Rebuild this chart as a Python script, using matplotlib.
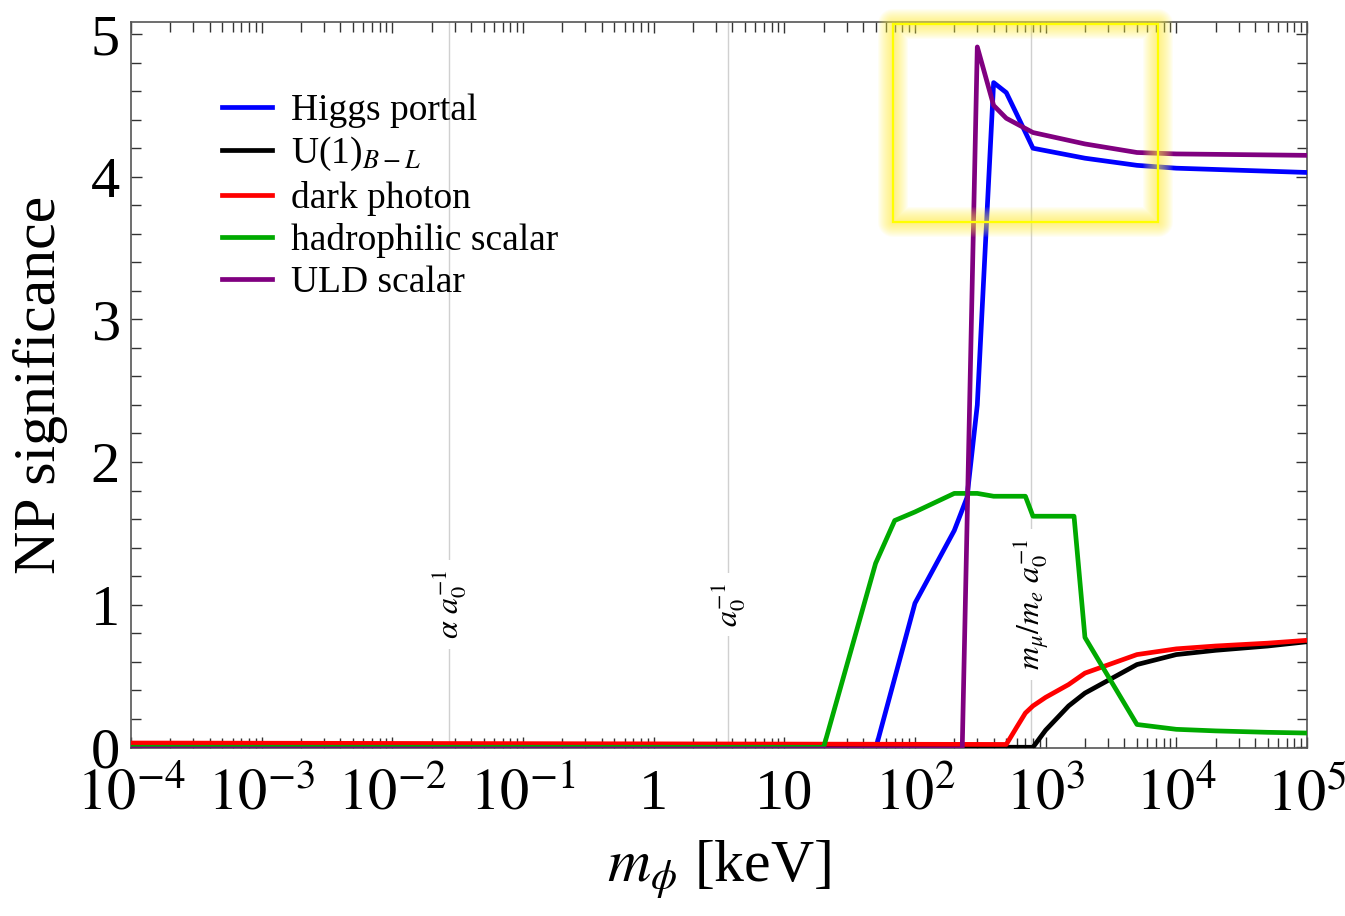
import matplotlib
matplotlib.use("Agg")
import matplotlib.pyplot as plt
from matplotlib.patches import Rectangle
from matplotlib.ticker import MultipleLocator, LogLocator, NullFormatter

plt.rcParams['font.family'] = ['Liberation Serif', 'DejaVu Serif']
plt.rcParams['mathtext.fontset'] = 'stix'

# masses in keV, significance values per model
higgs_m = [1e-4, 50, 100, 200, 250, 300, 400, 500, 600, 800, 2000, 5000, 1e4, 1e5]
higgs_y = [-0.01, -0.01, 1.01, 1.52, 1.75, 2.4, 4.66, 4.59, 4.44, 4.20, 4.13, 4.08, 4.06, 4.03]

bl_m = [1e-4, 800, 1000, 1500, 2000, 5000, 1e4, 2e4, 5e4, 1e5]
bl_y = [0.012, 0.0, 0.12, 0.29, 0.38, 0.58, 0.65, 0.68, 0.71, 0.74]

dark_m = [1e-4, 500, 600, 700, 800, 1000, 1500, 2000, 5000, 1e4, 2e4, 5e4, 1e5]
dark_y = [0.03, 0.02, 0.14, 0.24, 0.29, 0.35, 0.44, 0.52, 0.65, 0.69, 0.71, 0.73, 0.75]

hadro_m = [1e-4, 20, 50, 70, 100, 200, 300, 400, 700, 800, 1650, 2000, 5000, 1e4, 2e4, 5e4, 1e5]
hadro_y = [0.0, 0.0, 1.29, 1.59, 1.65, 1.78, 1.78, 1.76, 1.76, 1.62, 1.62, 0.77, 0.16, 0.126, 0.115, 0.105, 0.10]

uld_m = [1e-4, 230, 300, 400, 500, 800, 2000, 5000, 1e4, 1e5]
uld_y = [-0.012, -0.012, 4.91, 4.50, 4.41, 4.31, 4.23, 4.17, 4.16, 4.15]

series = [
    (higgs_m, higgs_y, '#0000ff', 'Higgs portal'),
    (bl_m, bl_y, 'black', r'U(1)$_{B-L}$'),
    (dark_m, dark_y, '#ff0000', 'dark photon'),
    (hadro_m, hadro_y, '#00aa00', 'hadrophilic scalar'),
    (uld_m, uld_y, '#800080', 'ULD scalar'),
]

# reference scales: alpha/a0, 1/a0, (m_mu/m_e)/a0
ref_m = [0.0272, 3.73, 771]
ref_labels = [r'$\alpha\ a_0^{-1}$', r'$a_0^{-1}$', r'$m_\mu/m_e\ a_0^{-1}$']

xtick_vals = [1e-4, 1e-3, 1e-2, 1e-1, 1, 10, 1e2, 1e3, 1e4, 1e5]
xtick_labels = [r'$10^{-4}$', r'$10^{-3}$', r'$10^{-2}$', r'$10^{-1}$', '1', '10',
                r'$10^{2}$', r'$10^{3}$', r'$10^{4}$', r'$10^{5}$']

# highlighted region
box_x = (67.6, 7210)
box_y = (3.68, 5.07)

fig = plt.figure(figsize=(13.45, 9.16), dpi=100)
ax = fig.add_axes([0.0974, 0.1834, 0.8743, 0.7926])
ax.set_xscale('log')

for m, lab in zip(ref_m, ref_labels):
    ax.axvline(m, color='#d0d0d0', lw=1.0, zorder=1)
    ax.text(m, 1.0, lab, rotation=90, ha='center', va='center', fontsize=23,
            bbox=dict(fc='white', ec='none', pad=7), zorder=2)

for m, y, c, lab in series:
    ax.plot(m, y, color=c, lw=3.4, label=lab, zorder=3)

# soft yellow glow around the box
for w in range(30, 2, -2):
    ax.add_patch(Rectangle((box_x[0], box_y[0]), box_x[1] - box_x[0], box_y[1] - box_y[0],
                           fill=False, ec='#fff040', lw=w * 0.72, alpha=0.06,
                           zorder=4, clip_on=False, joinstyle='round'))
ax.add_patch(Rectangle((box_x[0], box_y[0]), box_x[1] - box_x[0], box_y[1] - box_y[0],
                       fill=False, ec='#ffff00', lw=1.6, zorder=5, clip_on=False))

ax.set_xlim(1e-4, 1e5)
ax.set_ylim(-0.005, 5.085)

ax.set_xticks(xtick_vals, labels=xtick_labels)
ax.xaxis.set_minor_locator(LogLocator(base=10, subs=range(2, 10), numticks=30))
ax.xaxis.set_minor_formatter(NullFormatter())
ax.set_yticks([0, 1, 2, 3, 4, 5])
ax.yaxis.set_minor_locator(MultipleLocator(0.2))

ax.tick_params(which='both', direction='in', top=True, right=True, color='#333333', width=1.0)
ax.tick_params(which='major', length=8, labelsize=42)
ax.tick_params(which='minor', length=7)
ax.tick_params(axis='x', pad=15)
ax.tick_params(axis='y', pad=8)
for s in ax.spines.values():
    s.set_color('#555555')
    s.set_linewidth(1.2)

ax.set_xlabel(r'$m_\phi$ [keV]', fontsize=43)
ax.set_ylabel('NP significance', fontsize=43)
ax.xaxis.set_label_coords(0.5, -0.168)
ax.xaxis.label.set_va('center')
ax.yaxis.set_label_coords(-0.077, 0.5)
ax.yaxis.label.set_va('center')

ax.legend(loc='upper left', bbox_to_anchor=(0.077, 0.902), frameon=False, fontsize=27,
          handlelength=1.35, handletextpad=0.5, labelspacing=0.2, borderpad=0,
          borderaxespad=0)

fig.savefig('out.png', dpi=100)
